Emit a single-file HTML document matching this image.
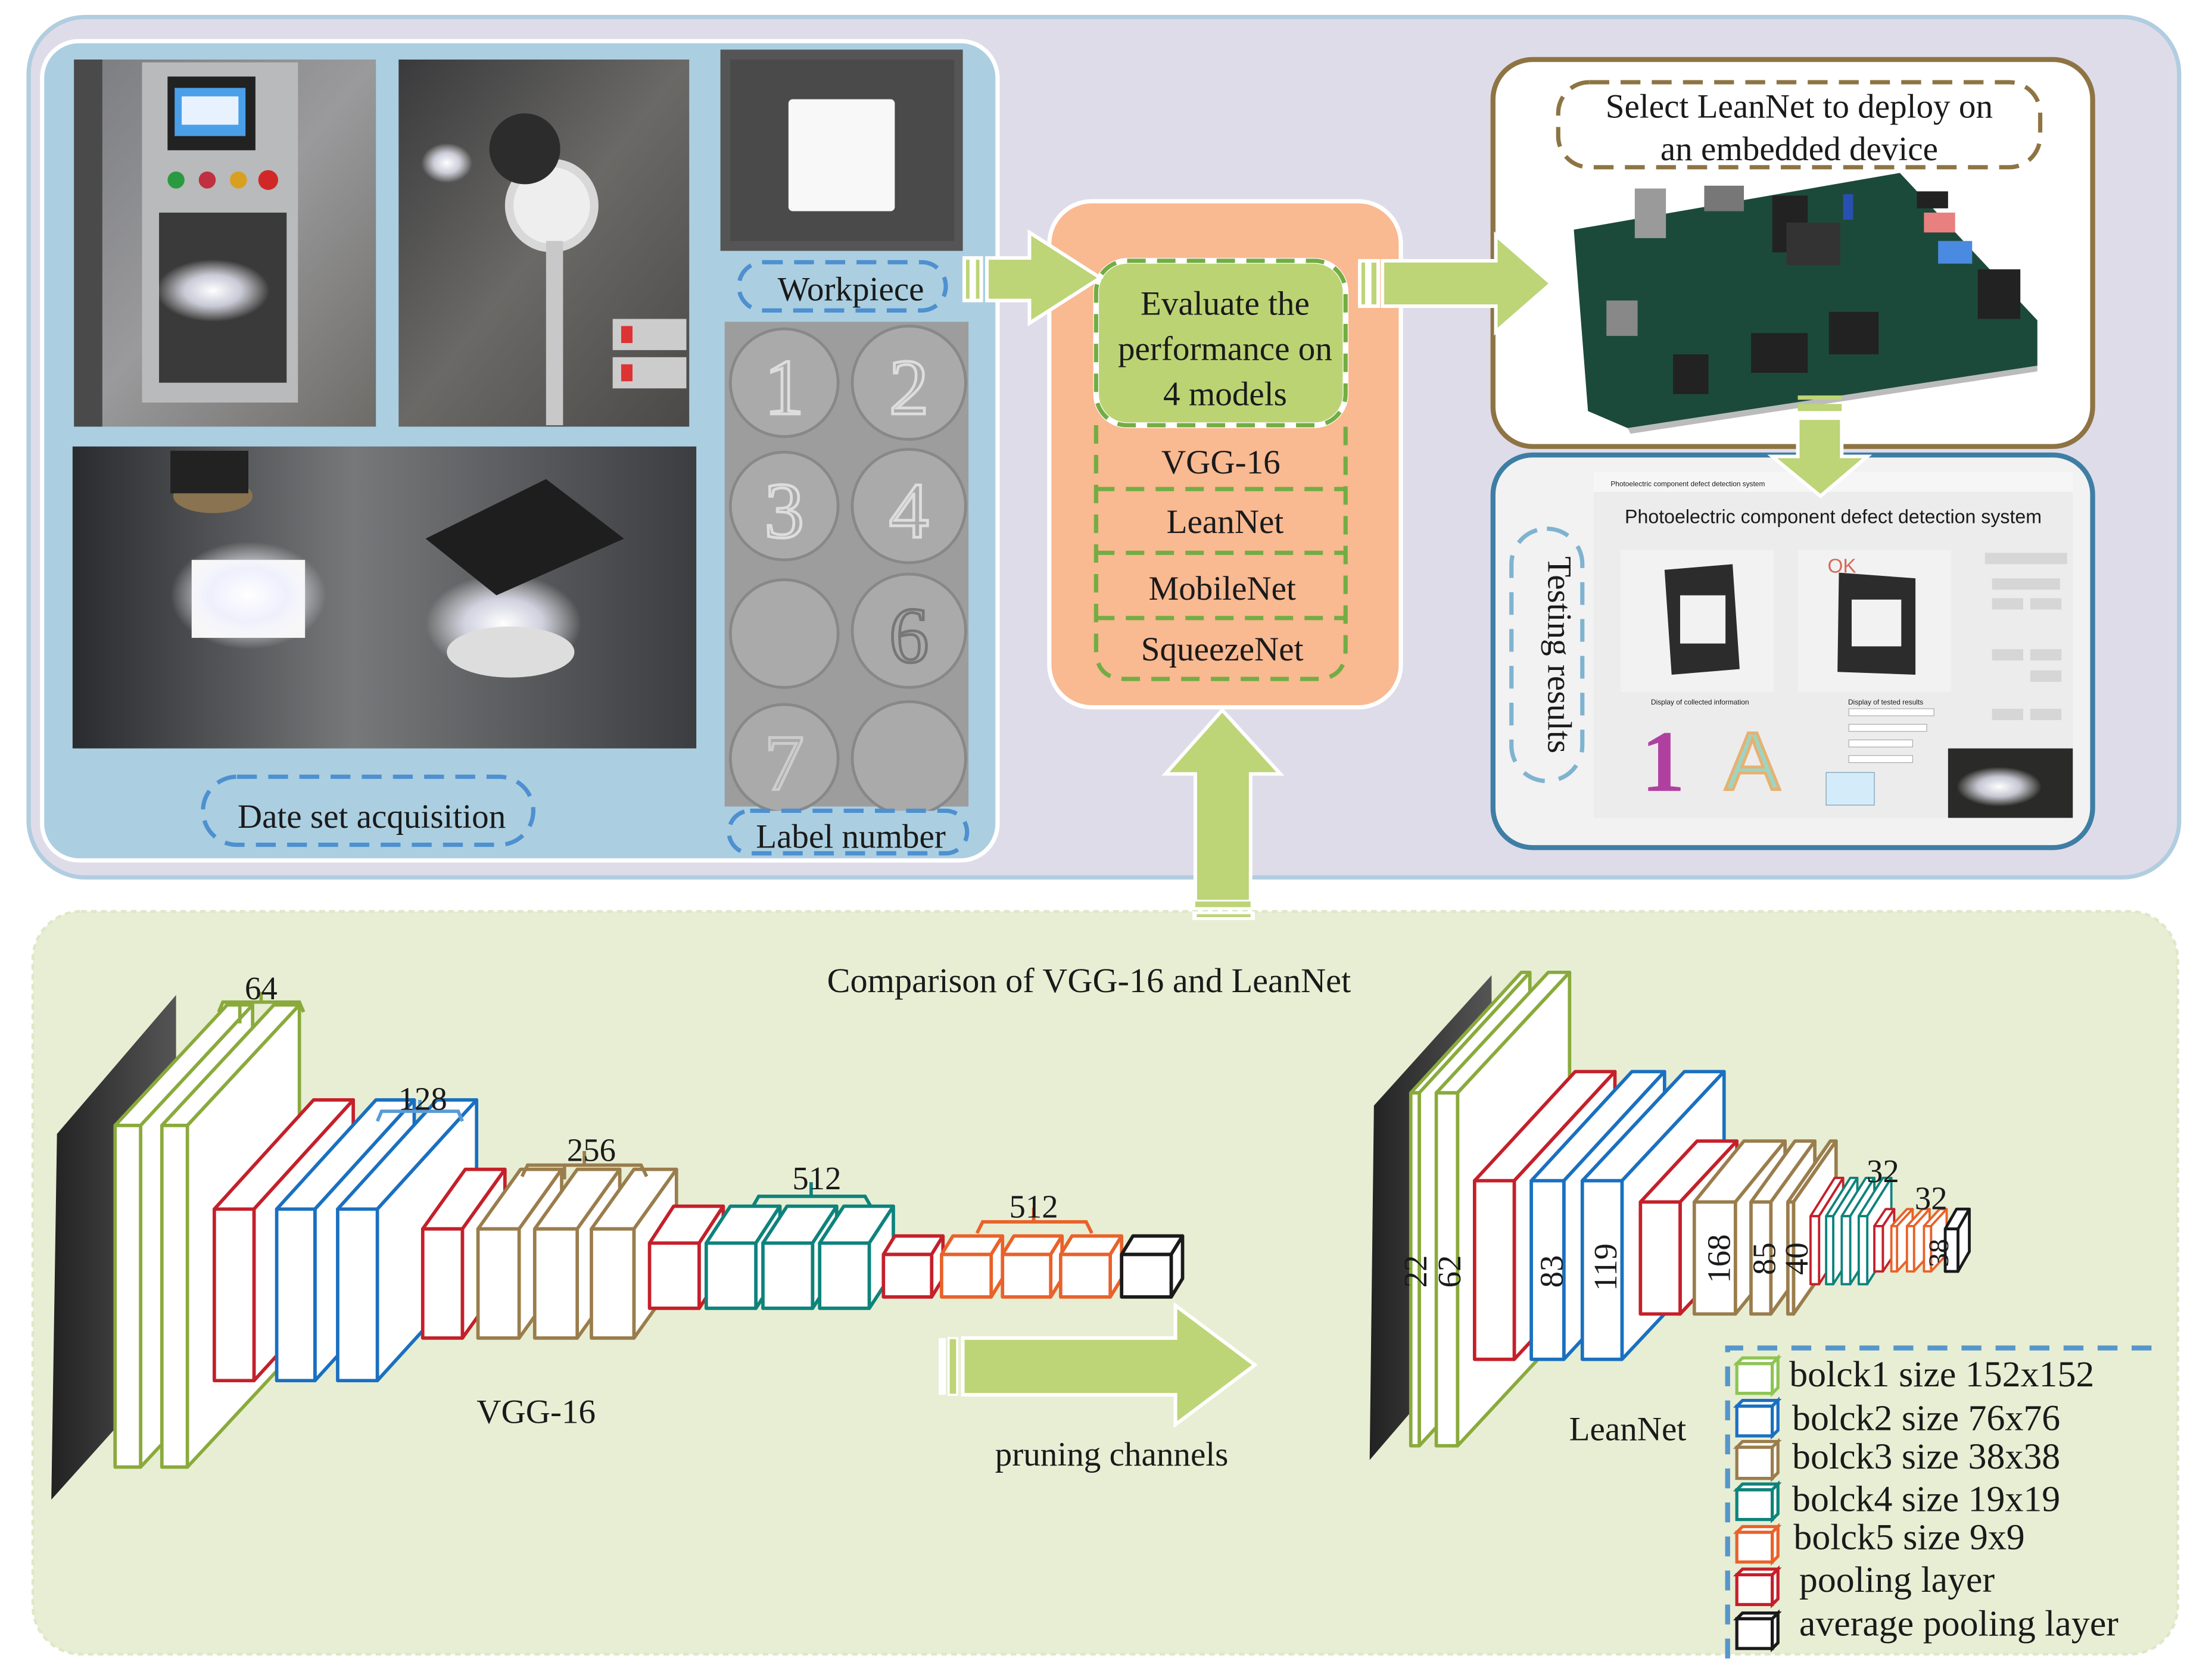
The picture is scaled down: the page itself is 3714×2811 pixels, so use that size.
<!DOCTYPE html>
<html><head><meta charset="utf-8"><style>
html,body{margin:0;padding:0;background:#fff;}
svg{display:block;}
text{font-family:"Liberation Serif",serif;fill:#1a1a1a;}
.s{font-family:"Liberation Sans",sans-serif;}
</style></head><body>
<svg width="3714" height="2811" viewBox="0 0 1560 1181" xmlns="http://www.w3.org/2000/svg">
<defs>
<linearGradient id="p1" x1="0" y1="0" x2="1" y2="1"><stop offset="0" stop-color="#7b7c80"/><stop offset="0.5" stop-color="#9a9a9c"/><stop offset="1" stop-color="#6e6c68"/></linearGradient>
<linearGradient id="p2" x1="0" y1="0" x2="1" y2="1"><stop offset="0" stop-color="#3a3a3c"/><stop offset="0.5" stop-color="#6a6966"/><stop offset="1" stop-color="#4a4947"/></linearGradient>
<linearGradient id="p3" x1="0" y1="0" x2="1" y2="0"><stop offset="0" stop-color="#2a2b2e"/><stop offset="0.45" stop-color="#77787a"/><stop offset="1" stop-color="#3c3d40"/></linearGradient>
<radialGradient id="glow"><stop offset="0" stop-color="#fff"/><stop offset="0.5" stop-color="#eef" stop-opacity="0.8"/><stop offset="1" stop-color="#fff" stop-opacity="0"/></radialGradient>
<linearGradient id="slab" x1="0" y1="0" x2="1" y2="0"><stop offset="0" stop-color="#222"/><stop offset="1" stop-color="#555"/></linearGradient>
</defs>

<!-- top panel -->
<rect x="20" y="12" width="1517" height="607" rx="40" fill="#dfdcea" stroke="#b1cde0" stroke-width="3"/>
<rect x="29.5" y="29" width="674" height="578" rx="26" fill="#abcfe1" stroke="#fff" stroke-width="3"/>

<!-- photo1 -->
<rect x="52" y="42" width="213" height="259" fill="url(#p1)"/>
<rect x="100" y="44" width="110" height="240" fill="#b9babb"/>
<rect x="118" y="54" width="62" height="52" fill="#222"/>
<rect x="123" y="62" width="50" height="34" fill="#4aa0e8"/>
<rect x="128" y="68" width="40" height="20" fill="#e8f2ff"/>
<circle cx="124" cy="127" r="6" fill="#2a9a40"/><circle cx="146" cy="127" r="6" fill="#c03040"/><circle cx="168" cy="127" r="6" fill="#d8a020"/><circle cx="189" cy="127" r="7" fill="#d02828"/>
<rect x="112" y="150" width="90" height="120" fill="#3a3a3a"/>
<ellipse cx="150" cy="205" rx="40" ry="22" fill="url(#glow)"/>
<rect x="52" y="42" width="20" height="259" fill="#4a4a4a"/>
<!-- photo2 -->
<rect x="281" y="42" width="205" height="259" fill="url(#p2)"/>
<circle cx="389" cy="145" r="33" fill="#d8d8d8"/><circle cx="389" cy="145" r="27" fill="#eee"/>
<circle cx="370" cy="105" r="25" fill="#2c2c2c"/>
<ellipse cx="315" cy="115" rx="18" ry="14" fill="url(#glow)"/>
<rect x="385" y="170" width="12" height="130" fill="#c8c8c8"/>
<rect x="432" y="225" width="52" height="22" fill="#ccc"/><rect x="432" y="252" width="52" height="22" fill="#ccc"/>
<rect x="438" y="230" width="8" height="12" fill="#d33"/><rect x="438" y="257" width="8" height="12" fill="#d33"/>
<!-- photo3 -->
<rect x="51" y="315" width="440" height="213" fill="url(#p3)"/>
<rect x="135" y="395" width="80" height="55" fill="#f6f6f6"/>
<ellipse cx="175" cy="420" rx="55" ry="38" fill="url(#glow)"/>
<ellipse cx="355" cy="440" rx="55" ry="35" fill="url(#glow)"/>
<ellipse cx="360" cy="460" rx="45" ry="18" fill="#ddd"/>
<polygon points="300,380 385,338 440,380 350,420" fill="#1e1e1e"/>
<ellipse cx="150" cy="350" rx="28" ry="12" fill="#8a7350"/>
<rect x="120" y="318" width="55" height="30" fill="#222"/>
<!-- workpiece -->
<rect x="508" y="35" width="171" height="142" fill="#555"/>
<rect x="515" y="42" width="158" height="128" fill="#4a4a4a"/>
<rect x="556" y="70" width="75" height="79" rx="3" fill="#f8f8f8"/>
<!-- label numbers -->
<rect x="511" y="227" width="172" height="342" fill="#9d9d9d"/>
<g fill="#aaa" stroke="#888" stroke-width="2">
<circle cx="553" cy="270" r="38"/><circle cx="641" cy="270" r="40"/><circle cx="553" cy="357" r="38"/><circle cx="641" cy="357" r="40"/>
<circle cx="553" cy="447" r="38"/><circle cx="641" cy="445" r="40"/><circle cx="553" cy="535" r="38"/><circle cx="641" cy="535" r="40"/>
</g>
<g font-family="Liberation Sans,sans-serif" font-size="56" text-anchor="middle">
<text x="553" y="292" style="fill:none;stroke:#ddd;stroke-width:2">1</text><text x="641" y="292" style="fill:none;stroke:#ddd;stroke-width:2">2</text>
<text x="553" y="379" style="fill:none;stroke:#ddd;stroke-width:2">3</text><text x="641" y="379" style="fill:none;stroke:#ddd;stroke-width:2">4</text>
<text x="641" y="467" style="fill:none;stroke:#777;stroke-width:2">6</text><text x="553" y="557" style="fill:none;stroke:#ccc;stroke-width:2">7</text>
</g>
<!-- labels -->
<rect x="521" y="185" width="146" height="34" rx="17" fill="#abcfe1" stroke="#4e90d0" stroke-width="3" stroke-dasharray="14 8"/>
<text x="600" y="212" font-size="24" text-anchor="middle">Workpiece</text>
<rect x="143" y="548" width="233" height="48" rx="24" fill="#abcfe1" stroke="#4e90d0" stroke-width="3" stroke-dasharray="14 8"/>
<text x="262" y="584" font-size="24" text-anchor="middle">Date set acquisition</text>
<rect x="514" y="572" width="168" height="30" rx="15" fill="#abcfe1" stroke="#4e90d0" stroke-width="3" stroke-dasharray="14 8"/>
<text x="600" y="598" font-size="24" text-anchor="middle">Label number</text>

<!-- orange -->
<rect x="740" y="142" width="248" height="357" rx="30" fill="#f9b991" stroke="#fff" stroke-width="3"/>
<rect x="773" y="184" width="176" height="116" rx="22" fill="#bcd374" stroke="#fff" stroke-width="4"/>
<rect x="773" y="184" width="176" height="116" rx="22" fill="none" stroke="#72ad44" stroke-width="3" stroke-dasharray="13 8"/>
<path d="M773,300 V458 Q773,479 794,479 H928 Q949,479 949,458 V300" fill="none" stroke="#72ad44" stroke-width="3" stroke-dasharray="13 8"/>
<g stroke="#72ad44" stroke-width="3" stroke-dasharray="13 8"><line x1="773" y1="345" x2="949" y2="345"/><line x1="773" y1="390" x2="949" y2="390"/><line x1="773" y1="436" x2="949" y2="436"/></g>
<g font-size="24" text-anchor="middle">
<text x="864" y="222">Evaluate the</text><text x="864" y="254">performance on</text><text x="864" y="286">4 models</text>
<text x="861" y="334">VGG-16</text><text x="864" y="376">LeanNet</text><text x="862" y="423">MobileNet</text><text x="862" y="466">SqueezeNet</text>
</g>

<!-- right boxes -->
<rect x="1053" y="42" width="423" height="273" rx="28" fill="#fff" stroke="#8e7443" stroke-width="3.5"/>
<rect x="1099" y="58" width="340" height="60" rx="22" fill="#fff" stroke="#8e7443" stroke-width="3" stroke-dasharray="14 8"/>
<text x="1269" y="83" font-size="24" text-anchor="middle">Select LeanNet to deploy on</text>
<text x="1269" y="113" font-size="24" text-anchor="middle">an embedded device</text>
<polygon points="1110,162 1340,122 1437,226 1437,258 1148,302 1120,290" fill="#1c4a3a"/>
<polygon points="1148,302 1437,258 1437,262 1150,306" fill="#bbb"/>
<rect x="1153" y="133" width="22" height="35" fill="#9a9a9a"/>
<rect x="1202" y="131" width="28" height="18" fill="#777"/>
<rect x="1250" y="138" width="25" height="40" fill="#222"/>
<rect x="1260" y="157" width="38" height="30" fill="#333"/>
<rect x="1357" y="150" width="22" height="14" fill="#e88080"/><rect x="1367" y="170" width="24" height="16" fill="#4a8ae0"/>
<rect x="1352" y="135" width="22" height="12" fill="#222"/>
<rect x="1300" y="137" width="7" height="18" fill="#2850b0"/>
<rect x="1395" y="190" width="30" height="35" fill="#222"/>
<rect x="1133" y="212" width="22" height="25" fill="#888"/>
<rect x="1180" y="250" width="25" height="28" fill="#222"/><rect x="1235" y="235" width="40" height="28" fill="#222"/><rect x="1290" y="220" width="35" height="30" fill="#222"/>

<rect x="1053" y="321" width="423" height="277" rx="28" fill="#f2f2f2" stroke="#3e7ea4" stroke-width="3.5"/>
<rect x="1124" y="333" width="338" height="244" fill="#ececec"/>
<rect x="1124" y="333" width="338" height="14" fill="#f6f6f6"/>
<text x="1136" y="343" class="s" font-size="5" fill="#555">Photoelectric component defect detection system</text>
<text x="1293" y="369" class="s" font-size="13.5" text-anchor="middle" fill="#444">Photoelectric component defect detection system</text>
<rect x="1143" y="388" width="108" height="100" fill="#f2f2f2"/><rect x="1268" y="388" width="108" height="100" fill="#f2f2f2"/>
<polygon points="1174,402 1222,398 1227,472 1179,476" fill="#2c2c2c"/><rect x="1185" y="420" width="32" height="34" fill="#f2f2f2"/>
<polygon points="1297,404 1351,408 1351,476 1296,474" fill="#2c2c2c"/><rect x="1306" y="423" width="35" height="33" fill="#f2f2f2"/>
<text x="1289" y="404" font-size="14" fill="#d46a5a" class="s" style="fill:#d46a5a">OK</text>
<text x="1199" y="497" class="s" font-size="5" text-anchor="middle" fill="#555">Display of collected information</text>
<text x="1330" y="497" class="s" font-size="5" text-anchor="middle" fill="#555">Display of tested results</text>
<text x="1173" y="558" font-size="62" font-weight="bold" text-anchor="middle" style="fill:#b040a0">1</text>
<text x="1236" y="557" class="s" font-size="58" text-anchor="middle" style="fill:#9fd4c0;stroke:#e8b070;stroke-width:2">A</text>
<rect x="1304" y="500" width="60" height="5" fill="#fff" stroke="#aaa" stroke-width="0.5"/>
<rect x="1304" y="511" width="55" height="5" fill="#fff" stroke="#aaa" stroke-width="0.5"/>
<rect x="1304" y="522" width="45" height="5" fill="#fff" stroke="#aaa" stroke-width="0.5"/>
<rect x="1304" y="533" width="45" height="5" fill="#fff" stroke="#aaa" stroke-width="0.5"/>
<rect x="1288" y="545" width="34" height="23" fill="#d4ecfa" stroke="#8ab" stroke-width="0.6"/>
<g fill="#d6d6d6"><rect x="1400" y="390" width="58" height="8"/><rect x="1405" y="408" width="48" height="8"/><rect x="1405" y="422" width="22" height="8"/><rect x="1432" y="422" width="22" height="8"/><rect x="1405" y="458" width="22" height="8"/><rect x="1432" y="458" width="22" height="8"/><rect x="1432" y="473" width="22" height="8"/><rect x="1405" y="500" width="22" height="8"/><rect x="1432" y="500" width="22" height="8"/></g>
<rect x="1374" y="528" width="88" height="49" fill="#2a2a28"/>
<ellipse cx="1410" cy="555" rx="30" ry="14" fill="url(#glow)"/>
<rect x="1066" y="373" width="50" height="178" rx="25" fill="#f2f2f2" stroke="#7fb3d0" stroke-width="3" stroke-dasharray="16 10"/>
<text transform="translate(1090,462) rotate(90)" font-size="24" text-anchor="middle" dy="-2">Testing results</text>

<!-- arrows (on top) -->
<g fill="#bdd477" stroke="#fff" stroke-width="2.5">
<polygon points="696,182 726,182 726,164 776,196 726,228 726,212 696,212"/>
<rect x="680" y="182" width="5" height="30"/><rect x="687" y="182" width="5" height="30"/>
<polygon points="975,184 1055,184 1055,166 1094,200 1055,234 1055,216 975,216"/>
<rect x="959" y="184" width="5" height="32"/><rect x="966" y="184" width="6" height="32"/>
<polygon points="1268,295 1299,295 1299,322 1317,322 1284,350 1250,322 1268,322"/>
<polygon points="843,636 843,546 822,546 862,501 903,546 882,546 882,636"/>
</g>
<rect x="1268" y="279" width="31" height="3" fill="#bdd477"/><rect x="1268" y="285" width="31" height="5" fill="#bdd477"/>

<!-- bottom panel -->
<rect x="23" y="643" width="1513" height="524" rx="34" fill="#e8eed4" stroke="#dfe7c8" stroke-width="2" stroke-dasharray="4 3"/>
<rect x="843" y="636" width="39" height="4" fill="#bdd477"/>
<rect x="841" y="643" width="44" height="6" fill="#fff"/><rect x="844" y="645" width="38" height="2" fill="#bdd477"/>
<text x="768" y="700" font-size="24.5" text-anchor="middle">Comparison of VGG-16 and LeanNet</text>

<!-- VGG -->
<polygon points="40,800 124,702 124,960 36,1058" fill="url(#slab)"/>
<g fill="#fff" stroke-width="2.4" stroke-linejoin="round">
<g stroke="#8aaa3c"><polygon points="81,794 160,709 178,709 99,794"/><polygon points="99,794 178,709 178,950 99,1035"/><rect x="81" y="794" width="18" height="241"/>
<polygon points="114,794 193,709 211,709 132,794"/><polygon points="132,794 211,709 211,950 132,1035"/><rect x="114" y="794" width="18" height="241"/></g>
<g stroke="#c4202a"><polygon points="151,853 221,776 249,776 179,853"/><polygon points="179,853 249,776 249,897 179,974"/><rect x="151" y="853" width="28" height="121"/></g>
<g stroke="#1a70c0"><polygon points="195,853 265,776 292,776 222,853"/><polygon points="222,853 292,776 292,897 222,974"/><rect x="195" y="853" width="27" height="121"/>
<polygon points="238,853 308,776 336,776 266,853"/><polygon points="266,853 336,776 336,897 266,974"/><rect x="238" y="853" width="28" height="121"/></g>
<g stroke="#c4202a"><polygon points="298,867 328,825 356,825 326,867"/><polygon points="326,867 356,825 356,902 326,944"/><rect x="298" y="867" width="28" height="77"/></g>
<g stroke="#9a7d4c"><polygon points="337,867 367,825 396,825 366,867"/><polygon points="366,867 396,825 396,902 366,944"/><rect x="337" y="867" width="29" height="77"/>
<polygon points="377,867 407,825 437,825 407,867"/><polygon points="407,867 437,825 437,902 407,944"/><rect x="377" y="867" width="30" height="77"/>
<polygon points="417,867 447,825 477,825 447,867"/><polygon points="447,867 477,825 477,902 447,944"/><rect x="417" y="867" width="30" height="77"/></g>
<g stroke="#c4202a"><polygon points="458,877 475,851 510,851 493,877"/><polygon points="493,877 510,851 510,897 493,923"/><rect x="458" y="877" width="35" height="46"/></g>
<g stroke="#0e837c"><polygon points="498,877 515,851 550,851 533,877"/><polygon points="533,877 550,851 550,897 533,923"/><rect x="498" y="877" width="35" height="46"/>
<polygon points="538,877 555,851 590,851 573,877"/><polygon points="573,877 590,851 590,897 573,923"/><rect x="538" y="877" width="35" height="46"/>
<polygon points="578,877 595,851 630,851 613,877"/><polygon points="613,877 630,851 630,897 613,923"/><rect x="578" y="877" width="35" height="46"/></g>
<g stroke="#c4202a"><polygon points="623,885 631,872 665,872 657,885"/><polygon points="657,885 665,872 665,902 657,915"/><rect x="623" y="885" width="34" height="30"/></g>
<g stroke="#e8622a"><polygon points="664,885 672,872 707,872 699,885"/><polygon points="699,885 707,872 707,902 699,915"/><rect x="664" y="885" width="35" height="30"/>
<polygon points="707,885 715,872 749,872 741,885"/><polygon points="741,885 749,872 749,902 741,915"/><rect x="707" y="885" width="34" height="30"/>
<polygon points="748,885 756,872 791,872 783,885"/><polygon points="783,885 791,872 791,902 783,915"/><rect x="748" y="885" width="35" height="30"/></g>
<g stroke="#1a1a1a"><polygon points="791,885 799,872 834,872 826,885"/><polygon points="826,885 834,872 834,902 826,915"/><rect x="791" y="885" width="35" height="30"/></g>
</g>
<!-- brackets -->
<g fill="none" stroke-width="2.4">
<path d="M154,714 L157,707 H211 L214,714 M184,707 V700 M169,707 V722" stroke="#8aaa3c"/>
<path d="M266,791 L269,784 H323 L326,791 M296,784 V776" stroke="#5b9bd5"/>
<path d="M368,830 L372,822 H452 L456,830 M412,822 V812 M398,822 V832" stroke="#9a7d4c"/>
<path d="M531,851 L535,844 H610 L614,851 M572,844 V834" stroke="#0e837c"/>
<path d="M689,870 L693,862 H766 L770,870 M729,862 V852" stroke="#e8622a"/>
</g>
<g font-size="23" text-anchor="middle">
<text x="184" y="705">64</text><text x="298" y="783">128</text><text x="417" y="819">256</text><text x="576" y="839">512</text><text x="729" y="859">512</text>
</g>
<text x="378" y="1004" font-size="24" text-anchor="middle">VGG-16</text>
<polygon points="679,944 829,944 829,921 885,963 829,1005 829,984 679,984" fill="#bdd477" stroke="#fff" stroke-width="2.5"/>
<rect x="662" y="944" width="5" height="40" fill="#fff"/><rect x="669" y="944" width="6" height="40" fill="#bdd477" stroke="#fff" stroke-width="1.5"/>
<text x="784" y="1034" font-size="24" text-anchor="middle">pruning channels</text>

<!-- LeanNet -->
<polygon points="969,780 1052,688 1052,930 966,1030" fill="url(#slab)"/>
<g fill="#fff" stroke-width="2.4" stroke-linejoin="round">
<g stroke="#8aaa3c"><polygon points="995,771 1073,686 1079,686 1001,771"/><polygon points="1001,771 1079,686 1079,935 1001,1020"/><rect x="995" y="771" width="6" height="249"/>
<polygon points="1013,771 1092,686 1107,686 1028,771"/><polygon points="1028,771 1107,686 1107,935 1028,1020"/><rect x="1013" y="771" width="15" height="249"/></g>
<g stroke="#c4202a"><polygon points="1040,833 1111,756 1139,756 1068,833"/><polygon points="1068,833 1139,756 1139,882 1068,959"/><rect x="1040" y="833" width="28" height="126"/></g>
<g stroke="#1a70c0"><polygon points="1080,833 1151,756 1174,756 1103,833"/><polygon points="1103,833 1174,756 1174,882 1103,959"/><rect x="1080" y="833" width="23" height="126"/>
<polygon points="1116,833 1188,756 1216,756 1144,833"/><polygon points="1144,833 1216,756 1216,882 1144,959"/><rect x="1116" y="833" width="28" height="126"/></g>
<g stroke="#c4202a"><polygon points="1157,848 1197,805 1225,805 1185,848"/><polygon points="1185,848 1225,805 1225,884 1185,927"/><rect x="1157" y="848" width="28" height="79"/></g>
<g stroke="#9a7d4c"><polygon points="1195,848 1230,805 1259,805 1224,848"/><polygon points="1224,848 1259,805 1259,884 1224,927"/><rect x="1195" y="848" width="29" height="79"/>
<polygon points="1235,848 1266,805 1280,805 1249,848"/><polygon points="1249,848 1280,805 1280,884 1249,927"/><rect x="1235" y="848" width="14" height="79"/>
<polygon points="1261,848 1291,805 1295,805 1265,848"/><polygon points="1265,848 1295,805 1295,884 1265,927"/><rect x="1261" y="848" width="4" height="79"/></g>
</g>
<g fill="#fff" stroke-width="1.6" stroke-linejoin="round">
<g stroke="#c4202a"><polygon points="1277,858 1294,831 1300,831 1283,858"/><polygon points="1283,858 1300,831 1300,879 1283,906"/><rect x="1277" y="858" width="6" height="48"/></g>
<g stroke="#0e837c"><polygon points="1288,858 1305,831 1310,831 1293,858"/><polygon points="1293,858 1310,831 1310,879 1293,906"/><rect x="1288" y="858" width="5" height="48"/>
<polygon points="1299,858 1316,831 1322,831 1305,858"/><polygon points="1305,858 1322,831 1322,879 1305,906"/><rect x="1299" y="858" width="6" height="48"/>
<polygon points="1311,858 1328,831 1334,831 1317,858"/><polygon points="1317,858 1334,831 1334,879 1317,906"/><rect x="1311" y="858" width="6" height="48"/></g>
<g stroke="#c4202a"><polygon points="1322,865 1330,853 1336,853 1328,865"/><polygon points="1328,865 1336,853 1336,885 1328,897"/><rect x="1322" y="865" width="6" height="32"/></g>
<g stroke="#e8622a"><polygon points="1334,865 1345,853 1349,853 1338,865"/><polygon points="1338,865 1349,853 1349,885 1338,897"/><rect x="1334" y="865" width="4" height="32"/>
<polygon points="1345,865 1356,853 1361,853 1350,865"/><polygon points="1350,865 1361,853 1361,885 1350,897"/><rect x="1345" y="865" width="5" height="32"/>
<polygon points="1357,865 1368,853 1373,853 1362,865"/><polygon points="1362,865 1373,853 1373,885 1362,897"/><rect x="1357" y="865" width="5" height="32"/></g>
<g stroke="#1a1a1a" stroke-width="2"><polygon points="1372,867 1380,853 1389,853 1381,867"/><polygon points="1381,867 1389,853 1389,883 1381,897"/><rect x="1372" y="867" width="9" height="30"/></g>
</g>
<g font-size="23" text-anchor="middle">
<text transform="translate(998,897) rotate(-90)" dy="8">22</text>
<text transform="translate(1022,897) rotate(-90)" dy="8">62</text>
<text transform="translate(1094,897) rotate(-90)" dy="8">83</text>
<text transform="translate(1132,894) rotate(-90)" dy="8">119</text>
<text transform="translate(1212,888) rotate(-90)" dy="8">168</text>
<text transform="translate(1244,888) rotate(-90)" dy="8">85</text>
<text transform="translate(1267,888) rotate(-90)" dy="8">40</text>
<text x="1328" y="834">32</text><text x="1362" y="853">32</text>
<text transform="translate(1367,884) rotate(-90)" dy="7" font-size="20">38</text>
</g>
<text x="1148" y="1016" font-size="24" text-anchor="middle">LeanNet</text>

<!-- legend -->
<path d="M1218.5,1170 V951 H1525" fill="none" stroke="#5596cc" stroke-width="3.5" stroke-dasharray="14 10"/>
<g fill="#fff" stroke-width="2.2">
<g stroke="#8ec453"><rect x="1225" y="962" width="25" height="21"/><polygon points="1225,962 1229,958 1254,958 1250,962"/><polygon points="1250,962 1254,958 1254,979 1250,983"/></g>
<g stroke="#1a70c0"><rect x="1225" y="992" width="25" height="21"/><polygon points="1225,992 1229,988 1254,988 1250,992"/><polygon points="1250,992 1254,988 1254,1009 1250,1013"/></g>
<g stroke="#9a7d4c"><rect x="1225" y="1021" width="25" height="22"/><polygon points="1225,1021 1229,1017 1254,1017 1250,1021"/><polygon points="1250,1021 1254,1017 1254,1039 1250,1043"/></g>
<g stroke="#0e837c"><rect x="1225" y="1051" width="25" height="21"/><polygon points="1225,1051 1229,1047 1254,1047 1250,1051"/><polygon points="1250,1051 1254,1047 1254,1068 1250,1072"/></g>
<g stroke="#e8622a"><rect x="1225" y="1081" width="25" height="21"/><polygon points="1225,1081 1229,1077 1254,1077 1250,1081"/><polygon points="1250,1081 1254,1077 1254,1098 1250,1102"/></g>
<g stroke="#c4202a"><rect x="1225" y="1111" width="25" height="21"/><polygon points="1225,1111 1229,1107 1254,1107 1250,1111"/><polygon points="1250,1111 1254,1107 1254,1128 1250,1132"/></g>
<g stroke="#1a1a1a"><rect x="1225" y="1142" width="25" height="21"/><polygon points="1225,1142 1229,1138 1254,1138 1250,1142"/><polygon points="1250,1142 1254,1138 1254,1159 1250,1163"/></g>
</g>
<g font-size="26">
<text x="1262" y="978">bolck1 size 152x152</text>
<text x="1264" y="1009">bolck2 size 76x76</text>
<text x="1264" y="1036">bolck3 size 38x38</text>
<text x="1264" y="1066">bolck4 size 19x19</text>
<text x="1265" y="1093">bolck5 size 9x9</text>
<text x="1269" y="1123">pooling layer</text>
<text x="1269" y="1154">average pooling layer</text>
</g>
</svg>
</body></html>
